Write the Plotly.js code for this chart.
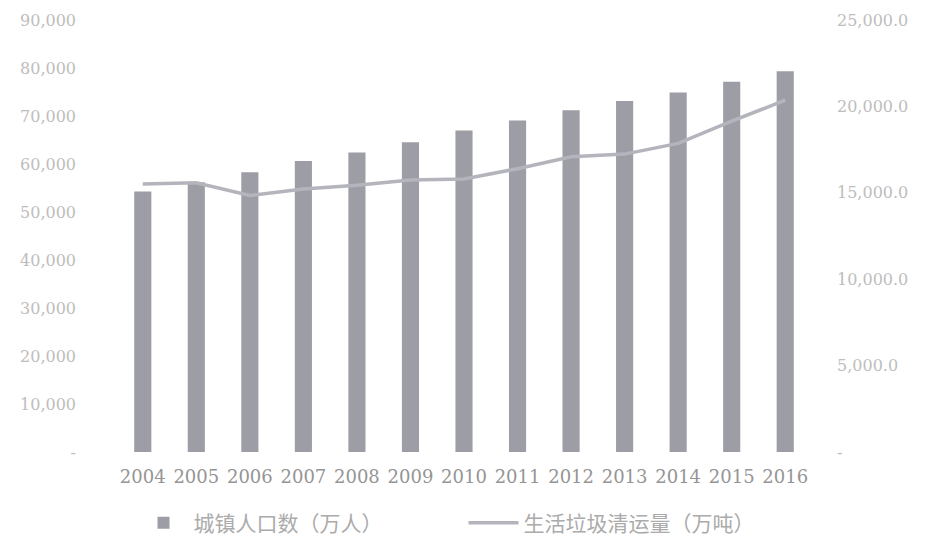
<!DOCTYPE html>
<html><head><meta charset="utf-8">
<script src="https://cdn.plot.ly/plotly-3.0.1.min.js"></script>
<style>html,body{margin:0;padding:0;background:#fff;}#chart{width:927px;height:542px;}</style>
</head><body><div id="chart"></div>
<script>
const years = ['2004','2005','2006','2007','2008','2009','2010','2011','2012','2013','2014','2015','2016'];
const urbanPop = [54283,56212,58288,60633,62403,64512,66978,69079,71182,73111,74916,77116,79298];
const garbage = [15509,15577,14841,15215,15438,15734,15805,16395,17081,17239,17860,19142,20362];
const leftTicks = [0,10000,20000,30000,40000,50000,60000,70000,80000,90000];
const leftTickText = ['-','10,000','20,000','30,000','40,000','50,000','60,000','70,000','80,000','90,000'];
const rightTicks = [0,5000,10000,15000,20000,25000];
const rightTickText = ['-','5,000.0','10,000.0','15,000.0','20,000.0','25,000.0'];
const barName = '城镇人口数（万人）';
const lineName = '生活垃圾清运量（万吨）';

const serif = 'DejaVu Serif, Liberation Serif, serif';
const data = [
  {type:'bar', x:years, y:urbanPop, name:barName, width:0.32,
   marker:{color:'#9d9da5'}},
  {type:'scatter', mode:'lines', x:years, y:garbage, name:lineName, yaxis:'y2',
   line:{color:'#b4b4bd', width:3.5}}
];
const layout = {
  width:927, height:542,
  margin:{l:116, r:115, t:20, b:90, autoexpand:false},
  paper_bgcolor:'#fff', plot_bgcolor:'#fff',
  showlegend:true,
  legend:{orientation:'h', x:0.5, xref:'container', xanchor:'center', y:0.035, yref:'container', yanchor:'middle',
    font:{family:'Noto Sans CJK SC, serif', size:21, color:'#ababab'}, itemwidth:50, tracegroupgap:0,
    entrywidth:265},
  xaxis:{type:'category', showgrid:false, zeroline:false, showline:false,
    tickfont:{family:serif, size:18, color:'#959595'}, ticks:'', ticklabelstandoff:12},
  yaxis:{range:[0,90000], tickvals:leftTicks, ticktext:leftTickText, showgrid:false, zeroline:false,
    showline:false, ticks:'', ticklabelstandoff:39,
    tickfont:{family:serif, size:16, color:'#bdbdbd'}},
  yaxis2:{range:[0,25000], overlaying:'y', side:'right', tickvals:rightTicks, ticktext:rightTickText,
    showgrid:false, zeroline:false, showline:false, ticks:'', ticklabelstandoff:24,
    tickfont:{family:serif, size:16, color:'#bdbdbd'}},
  bargap:0.6
};
Plotly.newPlot('chart', data, layout, {displayModeBar:false, staticPlot:true});
</script></body></html>
